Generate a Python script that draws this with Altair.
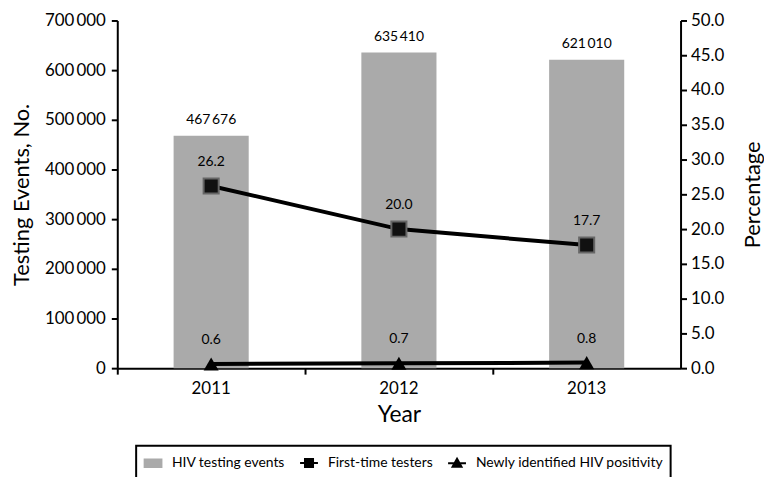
import altair as alt
import pandas as pd

years = ["2011", "2012", "2013"]
events = [467676, 635410, 621010]
first_time = [26.2, 20.0, 17.7]
newly_pos = [0.6, 0.7, 0.8]
series_names = ["HIV testing events", "First-time testers", "Newly identified HIV positivity"]

FONT = "Lato"

df_bar = pd.DataFrame({"year": years, "events": events, "series": series_names[0]})
df_pct = pd.DataFrame({
    "year": years * 2,
    "series": [series_names[1]] * 3 + [series_names[2]] * 3,
    "pct": first_time + newly_pos,
})

x_enc = alt.X(
    "year:N",
    scale=alt.Scale(paddingInner=0, paddingOuter=0),
    axis=alt.Axis(title="Year", labelAngle=0, bandPosition=0, labelFontSize=17,
                  labelPadding=6, titleFontSize=23, titlePadding=8),
)

y_left = alt.Y(
    "events:Q",
    scale=alt.Scale(domain=[0, 700000]),
    axis=alt.Axis(title="Testing Events, No.", values=list(range(0, 700001, 100000)),
                  labelExpr="replace(format(datum.value, ','), /,/g, '\u2009')",
                  orient="left", labelFontSize=17, labelPadding=6,
                  titleFontSize=22, titlePadding=11),
)

bars = alt.Chart(df_bar).mark_bar(width=alt.RelativeBandSize(0.4), color="#aaaaaa").encode(
    x=x_enc, y=y_left
)
bar_text = alt.Chart(df_bar).mark_text(dy=-16, fontSize=14, font=FONT, color="black").encode(
    x=x_enc, y=y_left, text=alt.Text("events:Q", format=",")
)
left = alt.layer(bars, bar_text)

y_right = alt.Y(
    "pct:Q",
    scale=alt.Scale(domain=[0, 50]),
    axis=alt.Axis(title="Percentage", orient="right", values=[i * 5 for i in range(11)],
                  format=".1f", labelFontSize=17, labelPadding=4, titleFontSize=22,
                  titlePadding=19, titleAngle=270, titleBaseline="top"),
)

lines = alt.Chart(df_pct).mark_line(color="black", strokeWidth=4).encode(
    x=x_enc, y=y_right, detail="series:N"
)
squares = alt.Chart(df_pct).transform_filter(
    alt.datum.series == series_names[1]
).mark_point(shape="square", filled=True, fill="#111111", stroke="#666666",
             strokeWidth=2, size=230, opacity=1).encode(x=x_enc, y=y_right)
triangles = alt.Chart(df_pct).transform_filter(
    alt.datum.series == series_names[2]
).mark_point(shape="triangle-up", filled=True, fill="black", size=230, opacity=1).encode(
    x=x_enc, y=y_right
)
pct_text = alt.Chart(df_pct).mark_text(dy=-24, fontSize=14, font=FONT, color="black").encode(
    x=x_enc, y=y_right, text=alt.Text("pct:Q", format=".1f")
)

leg = alt.Legend(
    title=None, orient="none", legendX=19, legendY=428, direction="horizontal",
    strokeColor="black", padding=7, fillColor="white",
    labelFont=FONT, labelFontSize=14, labelColor="black", labelOffset=9, labelLimit=400,
    symbolSize=324, symbolStrokeWidth=2, columnPadding=11, symbolOpacity=1,
)
shape_paths = [
    "M-0.94,-0.42H0.94V0.42H-0.94Z",
    "M-1,0H1M-0.45,-0.45H0.45V0.45H-0.45Z",
    "M-1,0H1M0,-0.5L0.5,0.4H-0.5Z",
]
legend_layer = alt.Chart(df_pct).mark_point(filled=True, opacity=0).encode(
    x=x_enc, y=y_right,
    fill=alt.Fill("series:N", scale=alt.Scale(domain=series_names, range=["#aaaaaa", "black", "black"]), legend=leg),
    stroke=alt.Stroke("series:N", scale=alt.Scale(domain=series_names, range=["#aaaaaa", "black", "black"]), legend=leg),
    shape=alt.Shape("series:N", scale=alt.Scale(domain=series_names, range=shape_paths), legend=leg),
)

right = alt.layer(lines, squares, triangles, pct_text, legend_layer)

chart = alt.layer(left, right).resolve_scale(y="independent").properties(
    width=567, height=350,
    autosize=alt.AutoSizeParams(type="none"),
    padding={"left": 110, "top": 11, "right": 84, "bottom": 108},
).configure(
    locale={"number": {"decimal": ".", "thousands": "\u2009", "grouping": [3], "currency": ["$", ""]}},
).configure_view(stroke=None).configure_axis(
    grid=False, domainColor="black", domainWidth=2, tickColor="black", tickWidth=2,
    tickSize=6, labelColor="black", titleColor="black", labelFont=FONT, titleFont=FONT,
    titleFontWeight="normal",
).configure_legend(strokeWidth=2)

chart.save("out.html", embed_options={"renderer": "svg", "actions": False})
